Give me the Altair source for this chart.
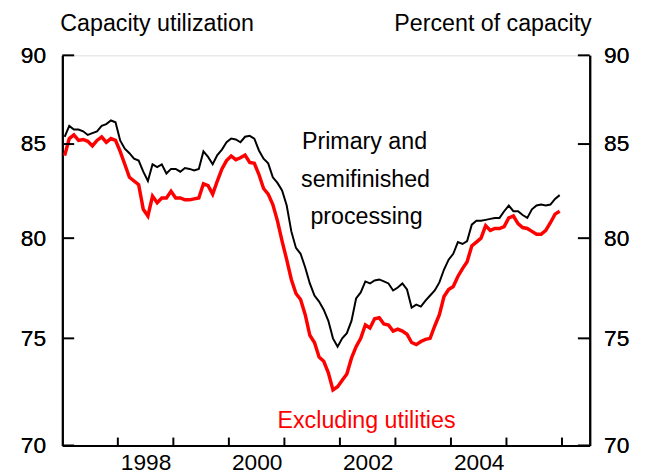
import altair as alt
import pandas as pd

# Monthly data, Jan 1997 - Dec 2005 (percent of capacity)
start_year = 1997
primary = [
    85.4, 86.0, 85.8, 85.8, 85.7, 85.5, 85.6, 85.7, 86.0, 86.1, 86.3, 86.2,
    85.2, 84.75, 84.5, 84.2, 84.1, 83.5, 83.0, 83.9, 83.75, 83.9, 83.4, 83.65,
    83.65, 83.5, 83.7, 83.65, 83.57, 83.65, 84.6, 84.3, 83.9, 84.4, 84.7, 85.1,
    85.3, 85.25, 85.1, 85.4, 85.45, 85.3, 84.65, 84.2, 83.95, 83.2, 82.9, 82.5,
    81.7, 80.35, 79.5, 79.2, 78.5, 77.7, 77.1, 76.8, 76.4, 75.85, 75.0, 74.6,
    75.0, 75.25, 75.85, 76.95, 77.25, 77.8, 77.7, 77.85, 77.9, 77.8, 77.7, 77.35,
    77.5, 77.7, 77.4, 76.5, 76.65, 76.55, 76.85, 77.1, 77.35, 77.75, 78.4, 78.9,
    79.2, 79.8, 79.7, 79.85, 80.7, 80.9, 80.9, 80.95, 81.0, 81.05, 81.05, 81.4,
    81.7, 81.4, 81.4, 81.2, 81.05, 81.5, 81.7, 81.75, 81.7, 81.75, 82.05, 82.25,
]
excl_util = [
    84.37, 85.3, 85.5, 85.2, 85.25, 85.15, 84.9, 85.2, 85.4, 85.1, 85.3, 85.2,
    84.6, 83.9, 83.2, 83.0, 82.8, 81.5, 81.15, 82.2, 81.85, 82.1, 82.1, 82.45,
    82.1, 82.1, 82.0, 82.0, 82.05, 82.1, 82.85, 82.75, 82.3, 83.0, 83.65, 84.1,
    84.35, 84.15, 84.25, 84.4, 84.0, 83.95, 83.35, 82.6, 82.3, 81.75, 80.9, 79.85,
    78.9, 77.9, 77.2, 76.9, 76.15, 75.15, 74.8, 74.1, 73.9, 73.35, 72.55, 72.7,
    73.0, 73.3, 74.05, 74.6, 75.0, 75.65, 75.5, 75.95, 76.0, 75.7, 75.65, 75.35,
    75.45, 75.35, 75.2, 74.8, 74.7, 74.85, 74.95, 75.0, 75.6, 76.15, 77.05, 77.4,
    77.55, 78.05, 78.45, 78.8, 79.6, 79.8, 80.0, 80.65, 80.4, 80.5, 80.5, 80.6,
    81.05, 81.15, 80.75, 80.55, 80.5, 80.35, 80.2, 80.2, 80.4, 80.8, 81.25, 81.4,
]
x_tick_years = [1998, 1999, 2000, 2001, 2002, 2003, 2004, 2005, 2006]
x_label_years = [1998, 2000, 2002, 2004]
y_ticks = [70, 75, 80, 85, 90]

dates = [start_year + (i + 0.5) / 12 for i in range(len(primary))]
df_p = pd.DataFrame({"t": dates, "v": primary})
df_e = pd.DataFrame({"t": dates, "v": excl_util})
df_xt = pd.DataFrame({"t": x_tick_years})
df_yt = pd.DataFrame({"v": y_ticks})

W, H = 534, 395
FONT = "Liberation Sans"
FS = 23
FS_T = 23.5

xscale = alt.Scale(domain=[1997, 2006.5], nice=False, zero=False)
yscale = alt.Scale(type="log", domain=[70, 90], nice=False, zero=False)

xaxis = alt.Axis(
    values=[y + 0.5 for y in x_label_years],
    labelExpr="format(floor(datum.value), 'd')",
    ticks=False, grid=False, domain=True, domainColor="black", domainWidth=2,
    labelFontSize=FS, labelFont=FONT, labelColor="black", labelPadding=6,
    labelOverlap=False, labelBound=False, title=None,
)
yaxis_l = alt.Axis(
    values=y_ticks, ticks=False, grid=False, domain=True, domainColor="black",
    domainWidth=2, labelFontSize=FS, labelFont=FONT, labelColor="black",
    labelPadding=17, title=None, orient="left",
)
yaxis_r = alt.Axis(
    values=y_ticks, ticks=False, grid=False, domain=True, domainColor="black",
    domainWidth=2, labelFontSize=FS, labelFont=FONT, labelColor="black",
    labelPadding=14, title=None, orient="right",
)

black_line = alt.Chart(df_p).mark_line(color="black", strokeWidth=2).encode(
    x=alt.X("t:Q", scale=xscale, axis=xaxis),
    y=alt.Y("v:Q", scale=yscale, axis=yaxis_l),
)
red_line = alt.Chart(df_e).mark_line(color="#ff0000", strokeWidth=3.5).encode(
    x=alt.X("t:Q", scale=xscale, axis=xaxis),
    y=alt.Y("v:Q", scale=yscale, axis=yaxis_r),
)

xticks = alt.Chart(df_xt).mark_rule(color="black", strokeWidth=2).encode(
    x=alt.X("t:Q", scale=xscale, axis=xaxis),
    y=alt.value(H), y2=alt.value(H - 8),
)
yticks_l = alt.Chart(df_yt).mark_rule(color="black", strokeWidth=2).encode(
    y=alt.Y("v:Q", scale=yscale, axis=yaxis_l),
    x=alt.value(0), x2=alt.value(12),
)
yticks_r = alt.Chart(df_yt).mark_rule(color="black", strokeWidth=2).encode(
    y=alt.Y("v:Q", scale=yscale, axis=yaxis_r),
    x=alt.value(W), x2=alt.value(W - 12),
)

def label(text, x, y, color="black", align="center"):
    return alt.Chart(pd.DataFrame({"s": [text]})).mark_text(
        font=FONT, fontSize=FS_T, color=color, align=align, baseline="middle"
    ).encode(text="s:N", x=alt.value(x), y=alt.value(y))

labels = [
    label("Capacity utilization", -2, -32, align="left"),
    label("Percent of capacity", 536, -32, align="right"),
    label("Primary and", 306, 88),
    label("semifinished", 307, 126),
    label("processing", 308, 164),
    label("Excluding utilities", 308, 370, color="#ff0000"),
]

chart = alt.layer(
    black_line, red_line, xticks, yticks_l, yticks_r, *labels
).resolve_axis(y="independent").properties(
    width=W, height=H,
    autosize=alt.AutoSizeParams(type="none"),
    padding={"left": 55, "top": 45, "right": 60, "bottom": 28},
).configure_view(stroke=None).configure(background="white")

chart.save("out.html", embed_options={"renderer": "svg", "actions": False})
